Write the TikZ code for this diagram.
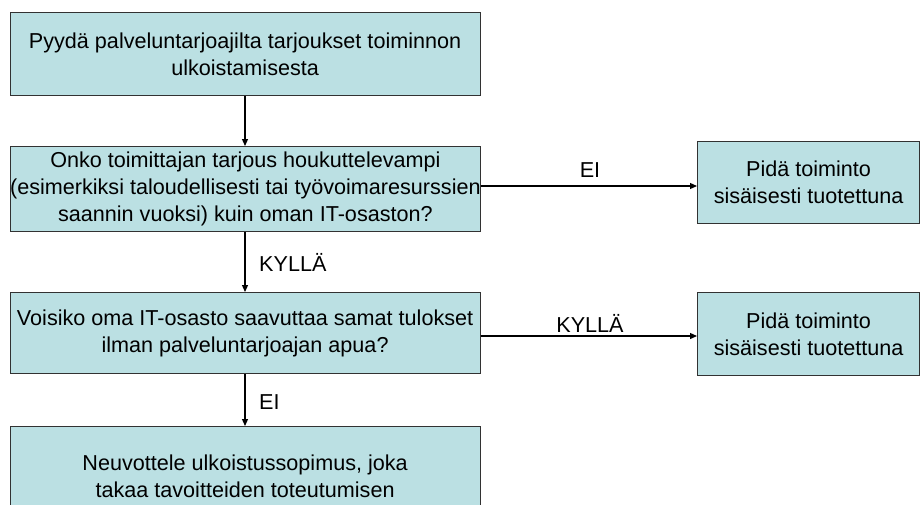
\documentclass[tikz,border=0pt]{standalone}
\usepackage{fontspec}
\setmainfont{Liberation Sans}
\usetikzlibrary{arrows.meta}
\definecolor{boxfill}{RGB}{187,224,227}
\definecolor{boxline}{RGB}{50,50,50}
\begin{document}
\begin{tikzpicture}[x=1pt,y=-1pt,
  every node/.style={font=\fontsize{21.6}{27}\selectfont, inner sep=0pt},
  flowbox/.style={draw=boxline, line width=1.2pt, fill=boxfill, align=center, anchor=north west},
  link/.style={draw=black, line width=1.2pt, -{Triangle[length=7pt,width=6pt]}},
  lbl/.style={text=black}
]
\useasboundingbox (0,0) rectangle (920,504);

% main column
\node[flowbox, minimum width=470pt, minimum height=83pt] (b1) at (9.5,12)
  {Pyydä palveluntarjoajilta tarjoukset toiminnon\\ulkoistamisesta};
\node[flowbox, minimum width=470pt, minimum height=85pt] (b2) at (9.5,146)
  {Onko toimittajan tarjous houkuttelevampi\\(esimerkiksi taloudellisesti tai työvoimaresurssien\\saannin vuoksi) kuin oman IT-osaston?};
\node[flowbox, minimum width=470pt, minimum height=81pt] (b3) at (9.5,292)
  {Voisiko oma IT-osasto saavuttaa samat tulokset\\ilman palveluntarjoajan apua?};
\node[flowbox, minimum width=470pt, minimum height=100pt] (b4) at (9.5,426)
  {Neuvottele ulkoistussopimus, joka\\takaa tavoitteiden toteutumisen};

% side outcomes
\node[flowbox, minimum width=222pt, minimum height=82pt] (r1) at (697,141)
  {Pidä toiminto\\sisäisesti tuotettuna};
\node[flowbox, minimum width=222pt, minimum height=83pt] (r2) at (697,292)
  {Pidä toiminto\\sisäisesti tuotettuna};

% connectors
\coordinate (p1) at (245,0);
\draw[link] (b1.south -| p1) -- (b2.north -| p1);
\draw[link] (b2.south -| p1) -- (b3.north -| p1);
\draw[link] (b3.south -| p1) -- (b4.north -| p1);
\coordinate (h1) at (0,186);
\coordinate (h2) at (0,336);
\draw[link] (b2.east |- h1) -- (r1.west |- h1);
\draw[link] (b3.east |- h2) -- (r2.west |- h2);

% branch labels
\node[lbl, anchor=west] (l1) at (259,262) {KYLLÄ};
\node[lbl, anchor=west] (l2) at (259,402) {EI};
\node[lbl] (l3) at (590,170) {EI};
\node[lbl] (l4) at (590,323) {KYLLÄ};
\end{tikzpicture}
\end{document}
